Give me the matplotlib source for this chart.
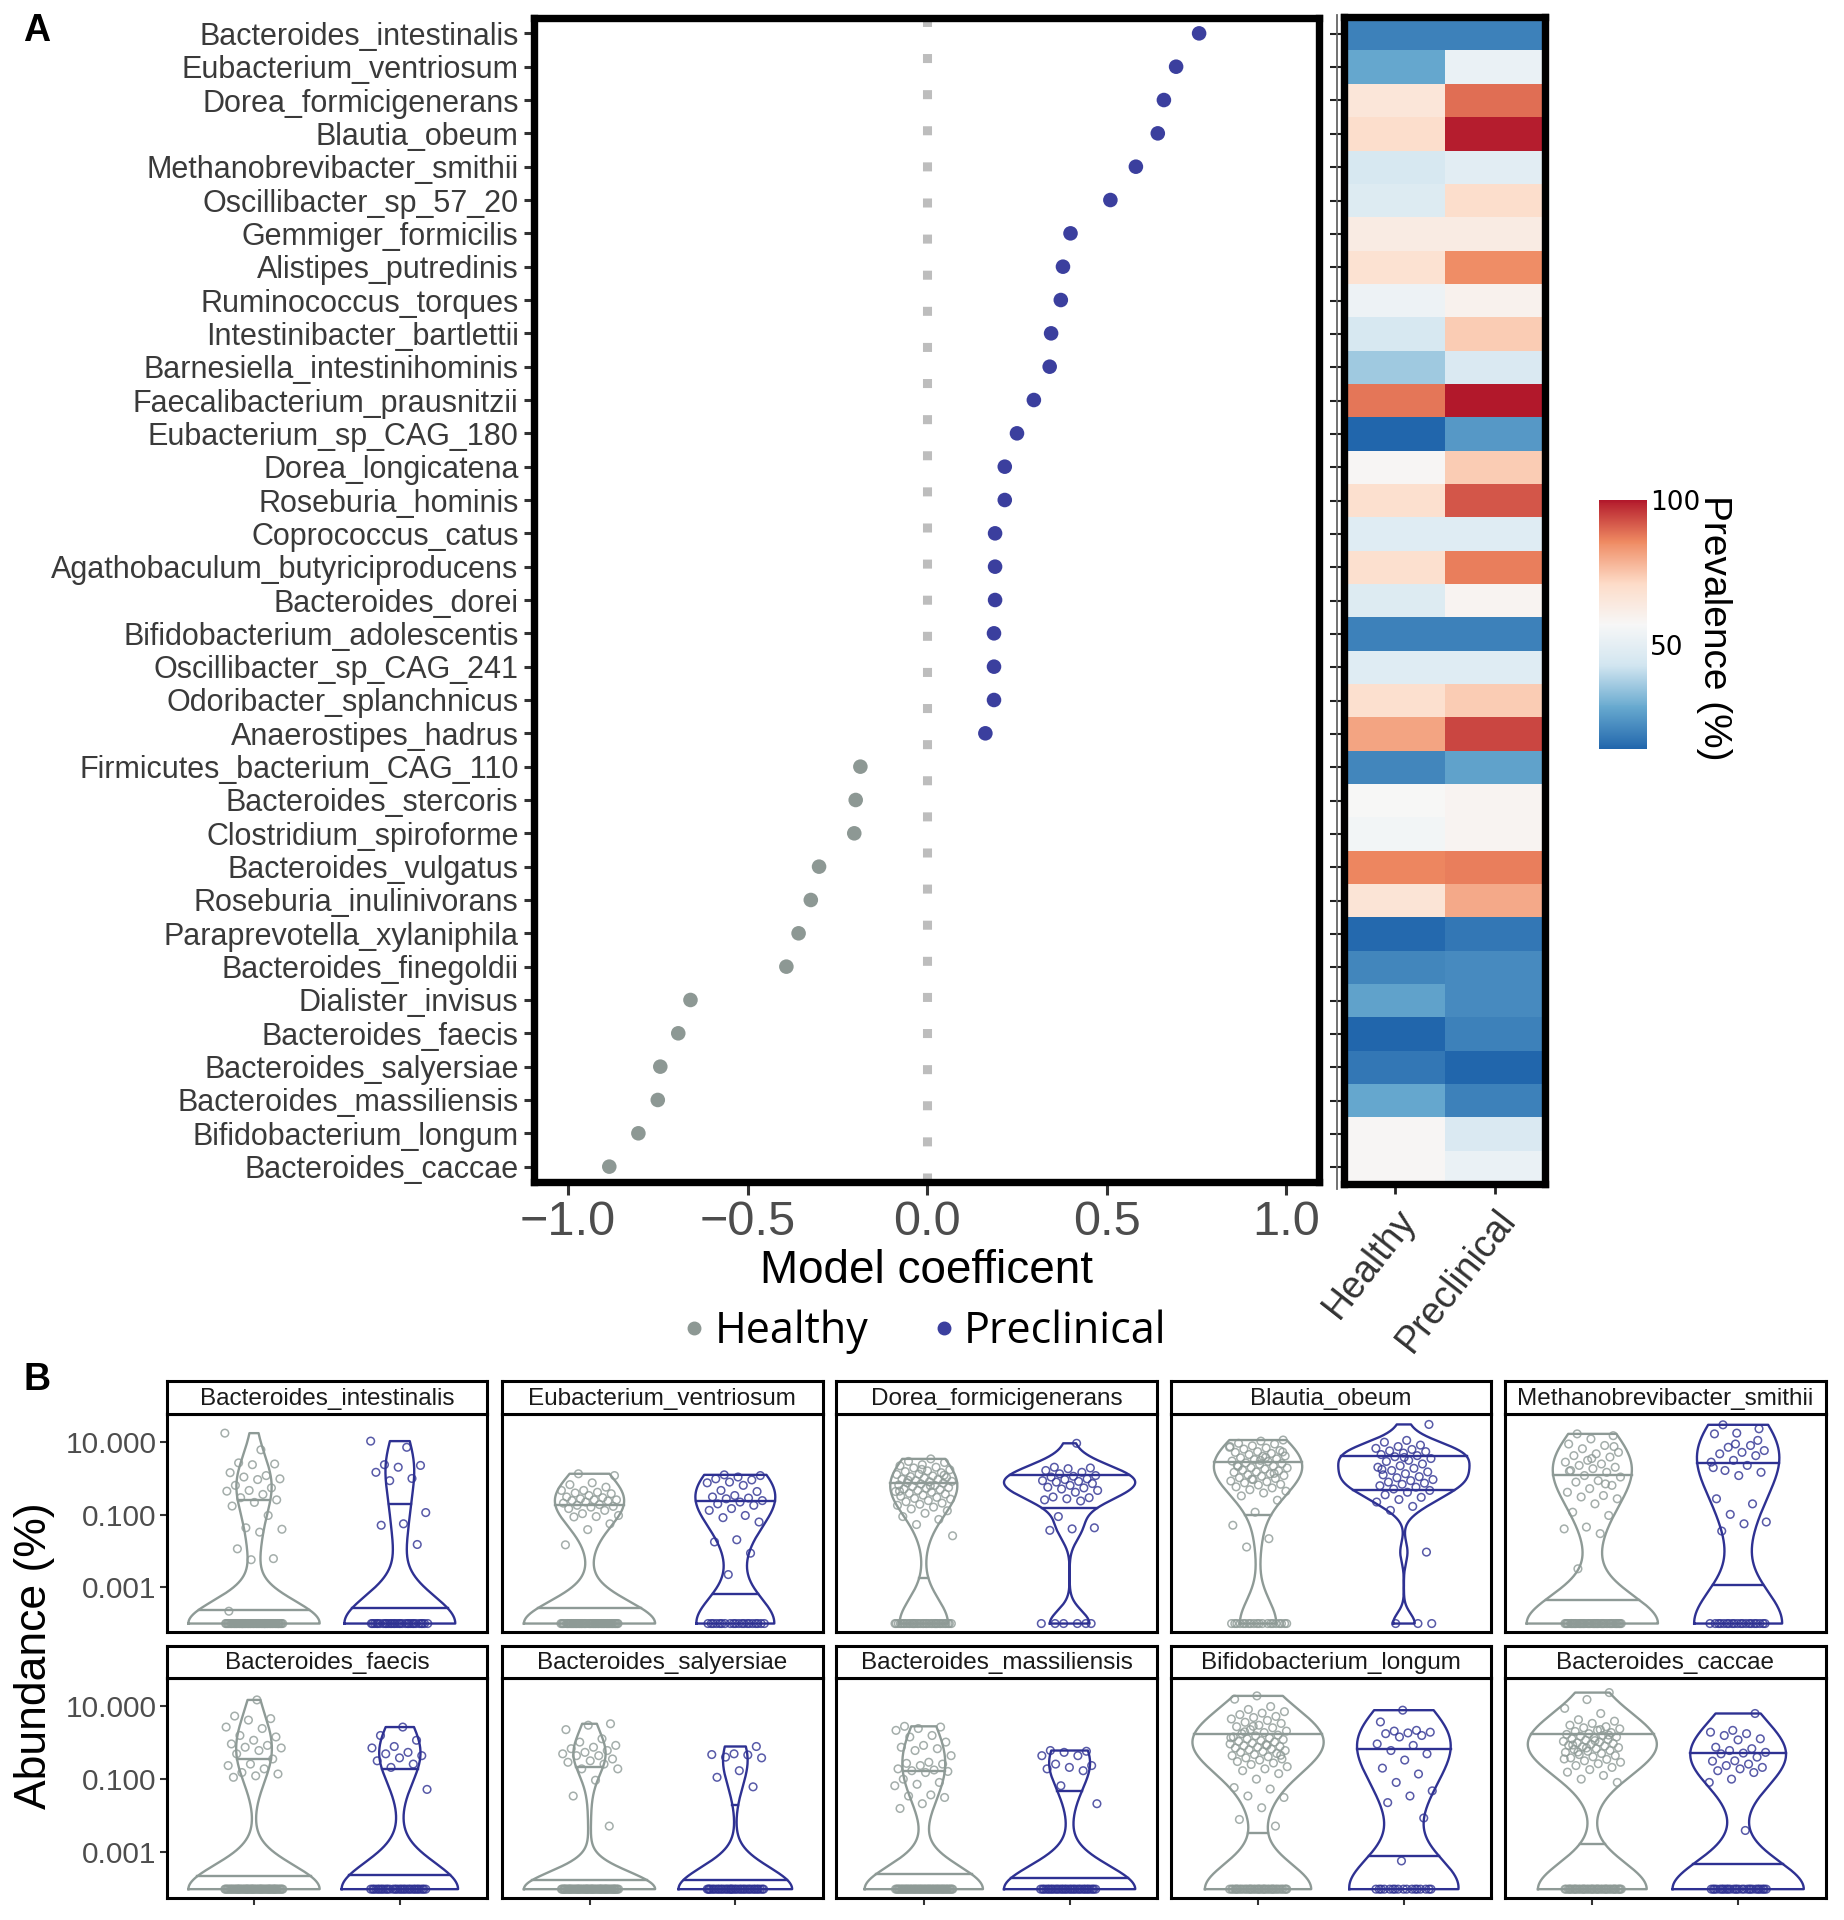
import numpy as np
import matplotlib
matplotlib.use("Agg")
import matplotlib.pyplot as plt
from matplotlib.colors import LinearSegmentedColormap, Normalize
from matplotlib.cm import ScalarMappable
from matplotlib.lines import Line2D
from matplotlib import font_manager

# ---------------- data: panel A ----------------
species = ["Bacteroides_intestinalis", "Eubacterium_ventriosum", "Dorea_formicigenerans",
           "Blautia_obeum", "Methanobrevibacter_smithii", "Oscillibacter_sp_57_20",
           "Gemmiger_formicilis", "Alistipes_putredinis", "Ruminococcus_torques",
           "Intestinibacter_bartlettii", "Barnesiella_intestinihominis",
           "Faecalibacterium_prausnitzii", "Eubacterium_sp_CAG_180", "Dorea_longicatena",
           "Roseburia_hominis", "Coprococcus_catus", "Agathobaculum_butyriciproducens",
           "Bacteroides_dorei", "Bifidobacterium_adolescentis", "Oscillibacter_sp_CAG_241",
           "Odoribacter_splanchnicus", "Anaerostipes_hadrus", "Firmicutes_bacterium_CAG_110",
           "Bacteroides_stercoris", "Clostridium_spiroforme", "Bacteroides_vulgatus",
           "Roseburia_inulinivorans", "Paraprevotella_xylaniphila", "Bacteroides_finegoldii",
           "Dialister_invisus", "Bacteroides_faecis", "Bacteroides_salyersiae",
           "Bacteroides_massiliensis", "Bifidobacterium_longum", "Bacteroides_caccae"]
coefficients = [0.757, 0.693, 0.659, 0.642, 0.581, 0.510, 0.399, 0.378, 0.372, 0.345,
                0.341, 0.297, 0.250, 0.216, 0.216, 0.189, 0.189, 0.189, 0.186, 0.186,
                0.186, 0.162, -0.186, -0.199, -0.203, -0.301, -0.324, -0.358, -0.392,
                -0.659, -0.693, -0.743, -0.750, -0.804, -0.885]
prev_healthy = [20, 28, 66, 70, 45, 47, 63, 68, 53, 45, 36, 88, 14, 58, 69, 48, 69, 47,
                20, 48, 69, 81, 21, 57, 55, 86, 67, 15, 21, 27, 14, 18, 28, 58, 58]
prev_preclinical = [20, 52, 89, 99, 49, 70, 63, 85, 60, 74, 46, 100, 25, 74, 92, 48, 87,
                    59, 20, 48, 74, 94, 27, 59, 59, 87, 80, 18, 22, 22, 20, 14, 20, 46, 52]
heat_columns = ["Healthy", "Preclinical"]

# ---------------- data: panel B (log10 abundance %, non-zero samples) ----------------
panel_names = ["Bacteroides_intestinalis", "Eubacterium_ventriosum", "Dorea_formicigenerans",
               "Blautia_obeum", "Methanobrevibacter_smithii", "Bacteroides_faecis",
               "Bacteroides_salyersiae", "Bacteroides_massiliensis", "Bifidobacterium_longum",
               "Bacteroides_caccae"]
intestinalis_h = [1.25, 0.79, 0.43, 0.40, 0.38, 0.16, 0.08, 0.04, -0.01, -0.03, -0.19, -0.26,
                  -0.33, -0.35, -0.44, -0.53, -0.59, -0.66, -0.76, -1.02, -1.36, -1.40, -1.48,
                  -1.94, -2.21, -2.24, -3.66]
intestinalis_p = [1.03, 0.86, 0.38, 0.36, 0.31, 0.17, 0.00, -0.06, -0.94, -1.25, -1.29, -1.82]
ventriosum_h = [0.13, 0.08, -0.12, -0.17, -0.24, -0.33, -0.33, -0.38, -0.40, -0.42, -0.47,
                -0.51, -0.53, -0.56, -0.59, -0.59, -0.61, -0.62, -0.65, -0.68, -0.72, -0.74,
                -0.77, -0.79, -0.83, -0.88, -0.97, -1.02, -1.05, -1.06, -1.25, -1.41, -1.83]
ventriosum_p = [0.10, 0.08, 0.04, -0.01, -0.04, -0.10, -0.12, -0.19, -0.33, -0.36, -0.47,
                -0.51, -0.54, -0.56, -0.61, -0.65, -0.70, -0.74, -0.83, -0.88, -1.02, -1.08,
                -1.20, -1.69, -1.75, -2.06, -2.65]
formicigenerans_h = [0.54, 0.47, 0.44, 0.38, 0.35, 0.31, 0.29, 0.24, 0.21, 0.19, 0.16, 0.12,
                     0.11, 0.07, 0.05, 0.03, 0.01, -0.02, -0.03, -0.06, -0.08, -0.09, -0.12,
                     -0.13, -0.15, -0.18, -0.19, -0.22, -0.25, -0.27, -0.29, -0.31, -0.33,
                     -0.36, -0.38, -0.41, -0.43, -0.46, -0.49, -0.52, -0.55, -0.57, -0.61,
                     -0.64, -0.68, -0.71, -0.74, -0.79, -0.84, -0.89, -0.96, -1.05, -1.13,
                     -1.27, -1.58, -0.20, -0.05, 0.09, 0.25, -0.35]
formicigenerans_p = [0.97, 0.31, 0.29, 0.27, 0.22, 0.17, 0.13, 0.08, 0.06, 0.04, -0.01, -0.03,
                     -0.06, -0.08, -0.10, -0.14, -0.19, -0.24, -0.26, -0.29, -0.33, -0.38,
                     -0.51, -0.53, -0.56, -0.59, -0.62, -1.05, -1.36, -1.39, -1.43]
obeum_h = [1.06, 1.03, 0.97, 0.95, 0.90, 0.88, 0.84, 0.81, 0.77, 0.74, 0.72, 0.69, 0.66,
           0.62, 0.61, 0.57, 0.54, 0.52, 0.48, 0.47, 0.43, 0.41, 0.39, 0.36, 0.34, 0.30,
           0.29, 0.26, 0.23, 0.21, 0.18, 0.17, 0.13, 0.10, 0.08, 0.06, 0.02, 0.00, -0.03,
           -0.07, -0.09, -0.12, -0.16, -0.18, -0.23, -0.26, -0.31, -0.35, -0.40, -0.48,
           -0.60, -0.93, -1.29, -1.66, -1.89, 0.73, 0.50, 0.33, 0.14, -0.02, 0.86, 0.58]
obeum_p = [1.49, 1.05, 1.00, 0.92, 0.88, 0.83, 0.80, 0.76, 0.74, 0.70, 0.66, 0.63, 0.60,
           0.55, 0.50, 0.47, 0.40, 0.35, 0.31, 0.28, 0.22, 0.18, 0.13, 0.10, 0.05, 0.02,
           -0.03, -0.06, -0.10, -0.13, -0.16, -0.20, -0.24, -0.29, -0.33, -0.38, -0.45,
           -0.52, -0.58, -0.65, -0.77, -0.88, -2.03, 0.58, 0.25]
smithii_h = [1.23, 1.18, 1.09, 0.95, 0.91, 0.82, 0.72, 0.68, 0.63, 0.59, 0.50, 0.45, 0.40,
             0.36, 0.31, 0.27, 0.22, 0.17, 0.08, 0.04, -0.06, -0.10, -0.19, -0.28, -0.38,
             -0.47, -0.51, -0.56, -0.70, -0.93, -1.02, -1.34, -1.39, -1.52, -2.49, 0.88,
             0.55, 0.20, -0.15]
smithii_p = [1.48, 1.37, 1.25, 1.23, 0.91, 0.86, 0.77, 0.72, 0.68, 0.63, 0.50, 0.45, 0.36,
             0.22, 0.17, 0.08, -0.56, -0.70, -0.99, -1.20, -1.25, -1.45, 1.05, 0.95, 0.30]
faecis_h = [1.16, 0.72, 0.65, 0.61, 0.42, 0.38, 0.19, 0.15, 0.06, -0.04, -0.08, -0.13, -0.15,
            -0.22, -0.31, -0.45, -0.59, -0.63, -0.72, -0.82, -0.86, -0.91, -0.95]
faecis_p = [0.42, 0.19, 0.06, -0.11, -0.15, -0.27, -0.31, -0.36, -0.42, -0.50, -0.59, -0.68,
            -1.28]
salyersiae_h = [0.51, 0.47, 0.35, 0.10, 0.01, -0.08, -0.13, -0.17, -0.22, -0.27, -0.31, -0.36,
                -0.36, -0.45, -0.50, -0.54, -0.59, -0.72, -0.72, -1.03, -1.46, -2.28]
salyersiae_p = [-0.11, -0.31, -0.33, -0.34, -0.40, -0.42, -0.77, -0.95, -1.21]
massiliensis_h = [0.44, 0.42, 0.38, 0.33, 0.19, 0.15, 0.01, -0.08, -0.13, -0.17, -0.22, -0.36,
                  -0.54, -0.57, -0.59, -0.63, -0.72, -0.75, -0.77, -0.79, -0.82, -1.00, -1.09,
                  -1.14, -1.18, -1.43, -1.46, -1.50, -1.67, -1.80]
massiliensis_p = [-0.22, -0.24, -0.27, -0.36, -0.36, -0.59, -0.63, -0.68, -0.72, -0.77, -1.18,
                  -1.67]
longum_h = [1.27, 1.18, 0.98, 0.90, 0.84, 0.80, 0.76, 0.71, 0.68, 0.64, 0.60, 0.55, 0.52,
            0.47, 0.43, 0.40, 0.35, 0.31, 0.27, 0.24, 0.20, 0.18, 0.15, 0.12, 0.10, 0.08,
            0.05, 0.03, 0.01, -0.02, -0.04, -0.06, -0.09, -0.11, -0.13, -0.15, -0.18, -0.20,
            -0.22, -0.25, -0.27, -0.30, -0.33, -0.36, -0.39, -0.42, -0.45, -0.48, -0.52,
            -0.56, -0.60, -0.66, -0.72, -0.77, -0.85, -1.00, -1.23, -1.27, -1.46, -1.50,
            -1.78, -2.10, -2.28, 0.44, 0.13, -0.08, 0.29, -0.35]
longum_p = [0.88, 0.56, 0.33, 0.31, 0.28, 0.26, 0.24, 0.19, 0.15, -0.04, -0.08, -0.22, -0.31,
            -0.48, -0.70, -0.86, -1.09, -1.32, -1.46, -1.64, -2.06, -3.23]
caccae_h = [1.36, 1.17, 0.93, 0.79, 0.62, 0.58, 0.52, 0.47, 0.43, 0.40, 0.37, 0.33, 0.30,
            0.27, 0.24, 0.22, 0.19, 0.17, 0.15, 0.12, 0.10, 0.08, 0.06, 0.03, 0.01, -0.01,
            -0.03, -0.05, -0.08, -0.10, -0.12, -0.14, -0.17, -0.19, -0.22, -0.24, -0.27,
            -0.30, -0.33, -0.36, -0.39, -0.42, -0.46, -0.50, -0.54, -0.58, -0.63, -0.68,
            -0.74, -0.81, -0.90, -1.00, -1.09, 0.05, -0.07, 0.20, -0.15, -0.45, 0.35, -0.26]
caccae_p = [0.79, 0.33, 0.28, 0.24, 0.19, 0.10, 0.07, -0.13, -0.17, -0.22, -0.27, -0.29,
            -0.31, -0.40, -0.50, -0.51, -0.59, -0.63, -0.68, -0.72, -0.77, -0.82, -1.00,
            -1.09, -2.40]
zeros_healthy = [58, 53, 36, 20, 46, 62, 63, 55, 40, 42]
zeros_preclinical = [30, 20, 6, 3, 20, 32, 36, 33, 17, 28]
zero_level = 1e-4   # pseudo-abundance used for zero samples
abund_ticks = [10, 0.1, 0.001]
abund_labels = ["10.000", "0.100", "0.001"]

healthy_sets = [intestinalis_h, ventriosum_h, formicigenerans_h, obeum_h, smithii_h,
                faecis_h, salyersiae_h, massiliensis_h, longum_h, caccae_h]
pre_sets = [intestinalis_p, ventriosum_p, formicigenerans_p, obeum_p, smithii_p,
            faecis_p, salyersiae_p, massiliensis_p, longum_p, caccae_p]

# ---------------- style ----------------
names = {f.name for f in font_manager.fontManager.ttflist}
NARROW = "Liberation Sans Narrow" if "Liberation Sans Narrow" in names else "Liberation Sans"
REG = "Liberation Sans"
plt.rcParams["font.family"] = [NARROW, "DejaVu Sans"]
C_H = "#8E9A96"
C_P = "#2E3192"
DOT_H = "#8D9894"
DOT_P = "#3B3F9E"

W, H = 1506.0, 1568.0
def rect(l, t, r, b):
    return [l / W, 1 - b / H, (r - l) / W, (b - t) / H]
def fx(x):
    return x / W
def fy(y):
    return 1 - y / H

fig = plt.figure(figsize=(18.44, 19.20), dpi=100)

# ---------------- Panel A: dot plot ----------------
n = len(species)
ypos = np.arange(n)[::-1]
ax = fig.add_axes(rect(436, 15, 1077, 965))
ax.axvline(0, color="#BDBDBD", lw=6.5, ls=(0, (1, 3.0)), zorder=1)
cols = [DOT_P if c > 0 else DOT_H for c in coefficients]
ax.scatter(coefficients, ypos, s=110, c=cols, zorder=3, linewidths=0)
ax.set_xlim(-1.095, 1.09)
ax.set_ylim(-0.45, n - 1 + 0.45)
ax.set_yticks(ypos)
ax.set_yticklabels(species, fontsize=22, color="#3A3A3A", family=[NARROW, "DejaVu Sans"])
ax.set_xticks([-1.0, -0.5, 0.0, 0.5, 1.0])
ax.set_xticklabels(["\u22121.0", "\u22120.5", "0.0", "0.5", "1.0"], fontsize=35,
                   color="#4D4D4D", family=[NARROW, "DejaVu Sans"])
ax.tick_params(axis="y", length=7, width=2.2, pad=4, color="#333333")
ax.tick_params(axis="x", length=9, width=2.2, pad=4, color="#333333")
for s in ax.spines.values():
    s.set_linewidth(5.3)
    s.set_color("black")
fig.text(fx(757), fy(1038), "Model coefficent", ha="center", va="center", fontsize=33,
         family=[REG, "DejaVu Sans"], color="black")
fig.text(fx(30), fy(25), "A", ha="center", va="center", fontsize=27, fontweight="bold",
         family=[NARROW, "DejaVu Sans"])

handles = [Line2D([], [], ls="", marker="o", color=DOT_H, markersize=9),
           Line2D([], [], ls="", marker="o", color=DOT_P, markersize=9)]
fig.legend(handles, ["Healthy", "Preclinical"], loc="center", ncol=2,
           bbox_to_anchor=(fx(752), fy(1088)), frameon=False, handletextpad=0.02,
           columnspacing=1.3, handlelength=0.9,
           prop={"family": ["Open Sans", "DejaVu Sans"], "size": 31})

# ---------------- Panel A: heatmap ----------------
cmap = LinearSegmentedColormap.from_list(
    "rdbu7", ["#2166AC", "#67A9CF", "#D1E5F0", "#F7F7F7", "#FDDBC7", "#EF8A62", "#B2182B"])
prev = np.column_stack([prev_healthy, prev_preclinical]).astype(float)
vmin, vmax = prev.min(), prev.max()
hx = fig.add_axes(rect(1098, 14, 1262, 967))
hx.pcolormesh(np.arange(3) - 0.5, np.arange(n + 1) - 0.5, prev[::-1], cmap=cmap,
              vmin=vmin, vmax=vmax, shading="flat")
hx.set_xlim(-0.5, 1.5)
hx.set_ylim(-0.5, n - 0.5)
hx.set_yticks(np.arange(n))
hx.set_yticklabels([])
hx.set_xticks([0, 1])
hx.set_xticklabels(heat_columns, rotation=52, ha="right", va="top", rotation_mode="anchor",
                   fontsize=27, family=[REG, "DejaVu Sans"], color="#333333")
hx.tick_params(axis="y", length=10, width=1.5, color="#222222")
hx.tick_params(axis="x", length=7, width=2, pad=6, color="#222222")
for s in hx.spines.values():
    s.set_linewidth(5.3)
    s.set_color("black")
fig.add_artist(Line2D([fx(1092), fx(1092)], [fy(12), fy(971)], color="#666666", lw=1.3))

cax = fig.add_axes(rect(1306, 408, 1345, 612))
cb = fig.colorbar(ScalarMappable(norm=Normalize(vmin, vmax), cmap=cmap), cax=cax,
                  ticks=[50, 100])
cb.outline.set_visible(False)
cax.tick_params(length=0, pad=2, labelsize=19)
for t in cax.get_yticklabels():
    t.set_family("DejaVu Sans")
fig.text(fx(1400), fy(513), "Prevalence (%)", rotation=270, ha="center", va="center",
         fontsize=28, family=[REG, "DejaVu Sans"])

# ---------------- Panel B: violins ----------------
def density(vals):
    v = np.asarray(vals, dtype=float)
    m = len(v)
    sd = v.std(ddof=1)
    q75, q25 = np.percentile(v, [75, 25])
    lo = min(sd, (q75 - q25) / 1.34)
    if lo <= 0:
        lo = sd
    bw = 0.9 * lo * m ** -0.2
    grid = np.linspace(v.min(), v.max(), 512)
    dens = np.exp(-0.5 * ((grid[:, None] - v[None, :]) / bw) ** 2).sum(1) / (m * bw * np.sqrt(2 * np.pi))
    return grid, dens

lefts = [136, 410, 683, 956, 1229]
rows = [(1128, 1155, 1333), (1344, 1370, 1550)]
lz = np.log10(zero_level)
for k, name in enumerate(panel_names):
    r, c = divmod(k, 5)
    st, pt, pb = rows[r]
    l = lefts[c]
    ax = fig.add_axes(rect(l, pt, l + 262, pb))
    sax = fig.add_axes(rect(l, st, l + 262, pt))
    groups = [(list(healthy_sets[k]) + [lz] * zeros_healthy[k], 1, C_H),
              (list(pre_sets[k]) + [lz] * zeros_preclinical[k], 2, C_P)]
    dens_all = [density(g[0]) for g in groups]
    gmax = max(d.max() for _, d in dens_all)
    for (vals, pos, col), (grid, dens) in zip(groups, dens_all):
        hw = 0.45 * dens / gmax
        xs = np.concatenate([pos - hw, (pos + hw)[::-1], [pos - hw[0]]])
        ys = np.concatenate([grid, grid[::-1], [grid[0]]])
        ax.plot(xs, 10 ** ys, color=col, lw=1.7, zorder=2)
        cum = np.cumsum(dens) / dens.sum()
        for q in (0.25, 0.75):
            yq = np.interp(q, cum, grid)
            wq = 0.45 * np.interp(yq, grid, dens) / gmax
            ax.plot([pos - wq, pos + wq], [10 ** yq, 10 ** yq], color=col, lw=1.7, zorder=2)
        idx = np.arange(len(vals))
        jit = ((idx * 0.6180339887 + 0.31 * k) % 1.0 - 0.5) * 0.4
        ax.scatter(pos + jit, 10 ** np.asarray(vals), s=30, facecolors="none",
                   edgecolors=col, linewidths=1.1, alpha=0.8, zorder=3)
    ax.set_yscale("log")
    ax.set_ylim(10 ** -4.24, 10 ** 1.77)
    ax.set_xlim(0.4, 2.6)
    ax.yaxis.set_minor_locator(matplotlib.ticker.NullLocator())
    ax.set_yticks(abund_ticks)
    if c == 0:
        ax.set_yticklabels(abund_labels, fontsize=21.5, color="#4D4D4D")
        ax.tick_params(axis="y", length=5, width=1.5, pad=2, color="#333333")
    else:
        ax.set_yticklabels([])
        ax.tick_params(axis="y", length=0)
    ax.set_xticks([1, 2])
    ax.set_xticklabels([])
    if r == 1:
        ax.tick_params(axis="x", length=5, width=1.5, color="#333333")
    else:
        ax.tick_params(axis="x", length=0)
    for s in ax.spines.values():
        s.set_linewidth(2.2)
        s.set_color("black")
    sax.set_xticks([])
    sax.set_yticks([])
    for s in sax.spines.values():
        s.set_linewidth(2.2)
        s.set_color("black")
    sax.text(0.5, 0.47, name, ha="center", va="center", fontsize=17.5, color="#1A1A1A",
             transform=sax.transAxes)

fig.text(fx(30), fy(1127), "B", ha="center", va="center", fontsize=27, fontweight="bold",
         family=[NARROW, "DejaVu Sans"])
fig.text(fx(28), fy(1352), "Abundance (%)", rotation=90, ha="center", va="center",
         fontsize=32, family=[REG, "DejaVu Sans"])

fig.savefig("out.png", dpi=100)
